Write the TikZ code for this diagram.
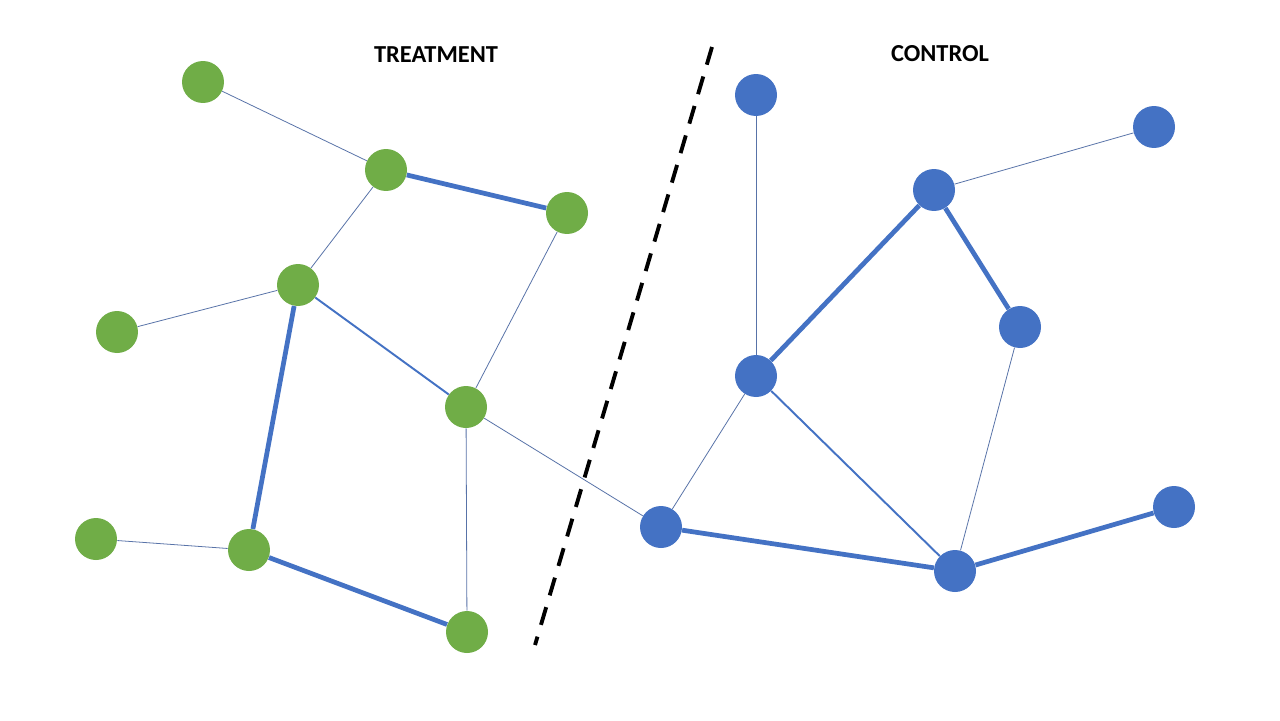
\documentclass[tikz,border=0pt]{standalone}
\usepackage{fontspec}
\setmainfont{Carlito}
\definecolor{ngreen}{HTML}{70AD47}
\definecolor{nblue}{HTML}{4472C4}
\definecolor{tblue}{HTML}{5873A8}
\begin{document}
\begin{tikzpicture}[x=0.02cm,y=-0.02cm,
  gnode/.style={circle,fill=ngreen,draw=none,minimum size=0.84cm,inner sep=0pt},
  bnode/.style={circle,fill=nblue,draw=none,minimum size=0.84cm,inner sep=0pt},
  thinedge/.style={draw=tblue,line width=0.45pt},
  midedge/.style={draw=nblue,line width=1.1pt},
  thickedge/.style={draw=nblue,line width=2.7pt},
  lbl/.style={font=\bfseries\fontsize{13.9}{16}\selectfont,text=black}]
\useasboundingbox[fill=white] (0,0) rectangle (1280,720);
% green nodes
\node[gnode] (g1) at (203,82) {};
\node[gnode] (g2) at (386,170) {};
\node[gnode] (g3) at (567,213) {};
\node[gnode] (g4) at (298,285) {};
\node[gnode] (g5) at (117,332) {};
\node[gnode] (g6) at (466,407) {};
\node[gnode] (g7) at (96,539) {};
\node[gnode] (g8) at (249,550) {};
\node[gnode] (g9) at (467,632) {};
% blue nodes
\node[bnode] (b1) at (756,95) {};
\node[bnode] (b2) at (1154,127) {};
\node[bnode] (b3) at (934,190) {};
\node[bnode] (b4) at (1020,327) {};
\node[bnode] (b5) at (756,376) {};
\node[bnode] (b6) at (661,527) {};
\node[bnode] (b7) at (955,571) {};
\node[bnode] (b8) at (1174,507) {};
% labels
\node[lbl] (t1) at (436,55) {TREATMENT};
\node[lbl] (t2) at (940,54) {CONTROL};
% divider
\coordinate (d1) at (712,47);
\coordinate (d2) at (535,645);
\draw[black,line width=2.2pt,dash pattern=on 10.5pt off 7pt] (d1) -- (d2);
% edges
\path[thinedge] (g1) -- (g2);
\path[thickedge] (g2) -- (g3);
\path[thinedge] (g2) -- (g4);
\path[thinedge] (g4) -- (g5);
\path[midedge] (g4) -- (g6);
\path[thinedge] (g3) -- (g6);
\path[thickedge] (g4) -- (g8);
\path[thinedge] (g7) -- (g8);
\path[thickedge] (g8) -- (g9);
\path[thinedge] (g6) -- (g9);
\path[thinedge] (g6) -- (b6);
\path[thinedge] (b1) -- (b5);
\path[thinedge] (b3) -- (b2);
\path[thickedge] (b3) -- (b5);
\path[thickedge] (b3) -- (b4);
\path[thinedge] (b5) -- (b6);
\path[midedge] (b5) -- (b7);
\path[thinedge] (b4) -- (b7);
\path[thickedge] (b6) -- (b7);
\path[thickedge] (b7) -- (b8);
\end{tikzpicture}
\end{document}
